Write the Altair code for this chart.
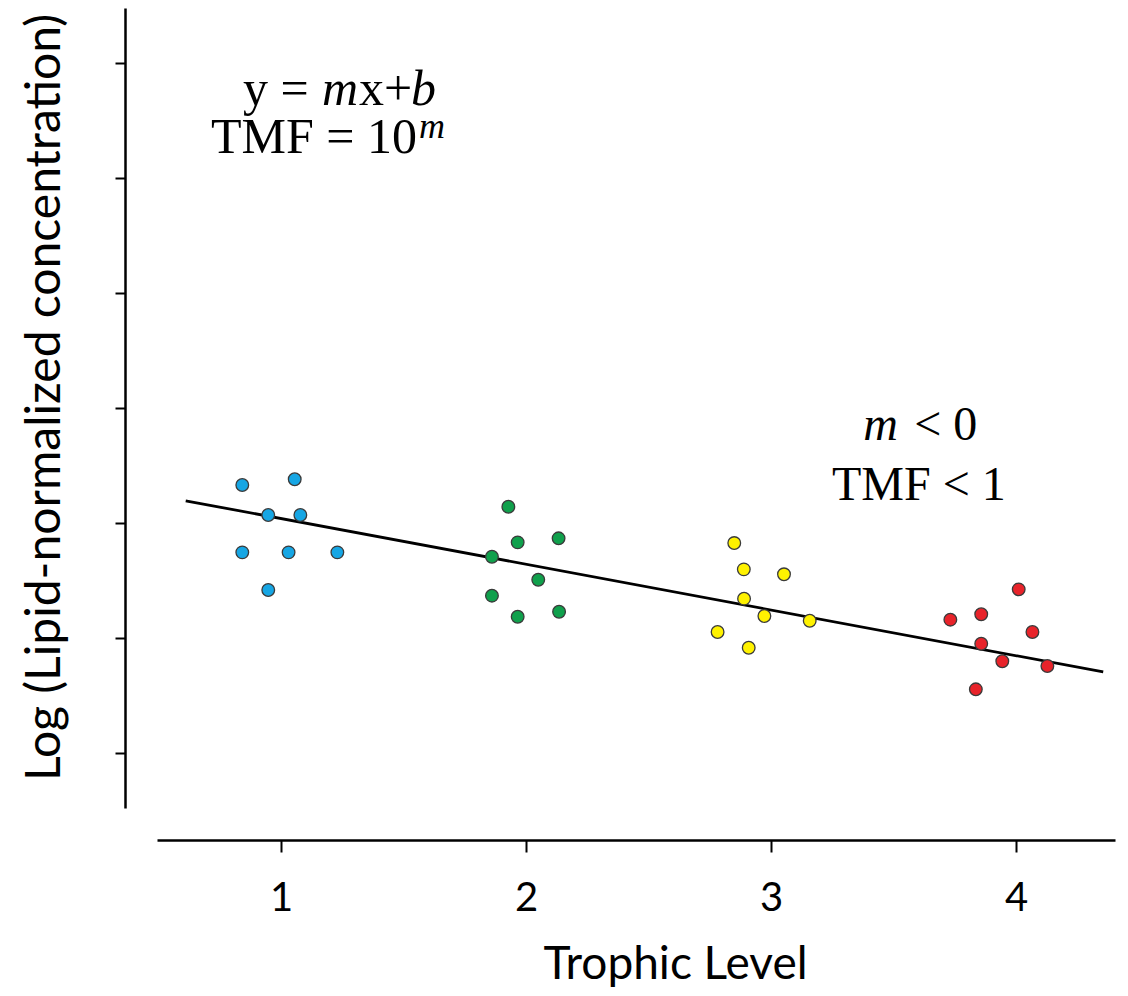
import altair as alt
import pandas as pd

# ---- data ----
blue_x = [0.842, 1.056, 0.948, 1.079, 0.842, 1.031, 1.230, 0.948]
blue_y = [3.328, 3.378, 3.067, 3.067, 2.742, 2.742, 2.742, 2.414]
green_x = [1.928, 1.966, 2.133, 1.861, 2.050, 1.861, 1.966, 2.135]
green_y = [3.139, 2.829, 2.864, 2.704, 2.504, 2.365, 2.182, 2.225]
yellow_x = [2.850, 2.889, 3.053, 2.890, 2.973, 3.158, 2.782, 2.909]
yellow_y = [2.823, 2.594, 2.551, 2.339, 2.188, 2.147, 2.049, 1.912]
red_x = [4.011, 3.732, 3.858, 4.067, 3.858, 3.944, 4.128, 3.836]
red_y = [2.420, 2.156, 2.203, 2.049, 1.947, 1.794, 1.753, 1.550]

groups = ["TL1", "TL2", "TL3", "TL4"]
group_colors = ["#16A6E4", "#10A04C", "#FFF200", "#E8232A"]

line_x = [0.611, 4.356]
line_y = [3.191, 1.701]

x_ticks = [1, 2, 3, 4]
y_ticks = [1, 2, 3, 4, 5, 6, 7]

# annotation anchors (data units)
ann_eq_x, ann_eq_y = 0.845, 6.635
ann_tmf_x, ann_tmf_y = 0.714, 6.218
ann_m_x, ann_m_y = 3.376, 3.720
ann_tmf2_x, ann_tmf2_y = 3.249, 3.198

# ---- tables ----
rows = []
for g, xs_, ys_ in zip(groups, [blue_x, green_x, yellow_x, red_x],
                       [blue_y, green_y, yellow_y, red_y]):
    for xv, yv in zip(xs_, ys_):
        rows.append({"level": xv, "conc": yv, "group": g})
pts = pd.DataFrame(rows)
fit = pd.DataFrame({"level": line_x, "conc": line_y})

x_dom = [0.4939, 4.404]
y_dom = [0.517, 7.48]

xs = alt.Scale(domain=x_dom, nice=False, zero=False)
ys = alt.Scale(domain=y_dom, nice=False, zero=False)

x_axis = alt.Axis(values=x_ticks, title="Trophic Level", grid=False, offset=32,
                  tickSize=12, tickWidth=2, tickColor="#000", domainColor="#000",
                  domainWidth=2.5, labelFont="Lato", labelFontSize=40,
                  labelColor="#000", labelPadding=26, labelFlush=False,
                  titleFont="Lato", titleFontSize=46, titleFontWeight="normal",
                  titleColor="#000", titleX=518, titleY=138,
                  titleBaseline="alphabetic", format="d")
y_axis = alt.Axis(values=y_ticks, title="Log (Lipid-normalized concentration)",
                  grid=False, offset=32, labels=False, tickSize=10, tickWidth=2,
                  tickColor="#000", domainColor="#000", domainWidth=2.5,
                  titleFont="Lato", titleFontSize=48, titleFontWeight="normal",
                  titleColor="#000", titlePadding=45, titleY=389)

base_x = alt.X("level:Q", scale=xs, axis=x_axis)
base_y = alt.Y("conc:Q", scale=ys, axis=y_axis)

line = alt.Chart(fit).mark_line(color="#000", strokeWidth=2.8).encode(
    x=alt.X("level:Q", scale=xs), y=alt.Y("conc:Q", scale=ys))

points = alt.Chart(pts).mark_point(filled=True, shape="circle", size=160,
                                   stroke="#3a3a3a", strokeWidth=1.3,
                                   opacity=1).encode(
    x=base_x, y=base_y,
    fill=alt.Fill("group:N", scale=alt.Scale(domain=groups, range=group_colors),
                  legend=None))


def txt(s, ax, ay, dx=0, dy=0, italic=False, size=48):
    df = pd.DataFrame({"level": [ax], "conc": [ay], "t": [s]})
    return alt.Chart(df).mark_text(
        align="left", baseline="alphabetic", font="Liberation Serif",
        fontSize=size, fontStyle="italic" if italic else "normal",
        color="#000", dx=dx, dy=dy).encode(
        x=alt.X("level:Q", scale=xs), y=alt.Y("conc:Q", scale=ys), text="t:N")


texts = [
    txt("y =", ann_eq_x, ann_eq_y, size=50),
    txt("m", ann_eq_x, ann_eq_y, dx=79, italic=True, size=50),
    txt("x+", ann_eq_x, ann_eq_y, dx=116, italic=False, size=50),
    txt("b", ann_eq_x, ann_eq_y, dx=168, italic=True, size=50),
    txt("TMF = 10", ann_tmf_x, ann_tmf_y, size=50),
    txt("m", ann_tmf_x, ann_tmf_y, dx=208, dy=-15, italic=True, size=36),
    txt("m", ann_m_x, ann_m_y, italic=True),
    txt("< 0", ann_m_x, ann_m_y, dx=51),
    txt("TMF < 1", ann_tmf2_x, ann_tmf2_y),
]

chart = alt.layer(line, points, *texts).properties(
    width=958, height=800,
    padding={"left": 149, "top": 0, "right": 5, "bottom": 180},
    autosize=alt.AutoSizeParams(type="none"),
    background="white",
).configure_view(stroke=None)

chart.save("out.html", embed_options={"renderer": "svg", "actions": False})
